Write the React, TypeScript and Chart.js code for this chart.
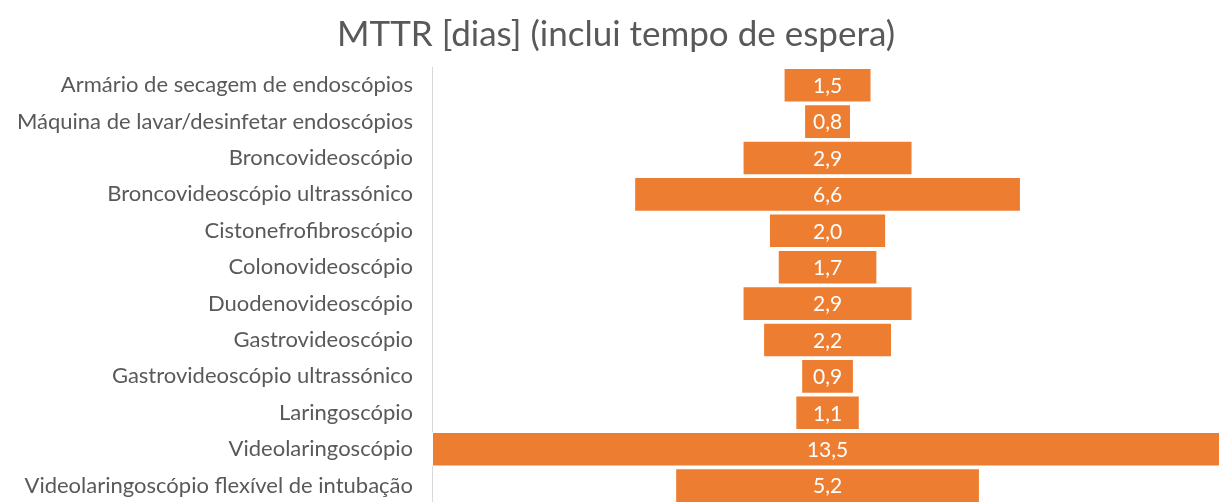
import React, { useEffect, useRef } from "react";
import { Chart, registerables } from "chart.js";

Chart.register(...registerables);

const categories: string[] = [
  "Armário de secagem de endoscópios",
  "Máquina de lavar/desinfetar endoscópios",
  "Broncovideoscópio",
  "Broncovideoscópio ultrassónico",
  "Cistonefrofibroscópio",
  "Colonovideoscópio",
  "Duodenovideoscópio",
  "Gastrovideoscópio",
  "Gastrovideoscópio ultrassónico",
  "Laringoscópio",
  "Videolaringoscópio",
  "Videolaringoscópio flexível de intubação",
];

const mttrValues: number[] = [1.5, 0.8, 2.9, 6.6, 2.0, 1.7, 2.9, 2.2, 0.9, 1.1, 13.5, 5.2];

const titleText = "MTTR [dias] (inclui tempo de espera)";

const FONT = "Lato, 'Open Sans', sans-serif";

const valueLabelPlugin = {
  id: "valueLabels",
  afterDatasetsDraw(chart: any) {
    const ctx = chart.ctx;
    const meta = chart.getDatasetMeta(0);
    ctx.save();
    ctx.fillStyle = "#ffffff";
    ctx.font = `21px ${FONT}`;
    ctx.textAlign = "center";
    ctx.textBaseline = "middle";
    meta.data.forEach((el: any, i: number) => {
      const cx = (el.x + el.base) / 2;
      ctx.fillText(mttrValues[i].toFixed(1).replace(".", ","), cx, el.y + 1);
    });
    ctx.restore();
  },
};

export default function App() {
  const ref = useRef<HTMLCanvasElement | null>(null);

  useEffect(() => {
    if (!ref.current) return;
    const chart = new Chart(ref.current, {
      type: "bar",
      data: {
        labels: categories,
        datasets: [
          {
            data: mttrValues.map((v) => [-v / 2, v / 2]) as any,
            backgroundColor: "#ED7D31",
            borderColor: "#ffffff",
            borderWidth: 1,
            borderSkipped: false,
            categoryPercentage: 1,
            barPercentage: 0.95,
          },
        ],
      },
      options: {
        indexAxis: "y",
        animation: false,
        responsive: false,
        layout: { padding: { left: 13, right: 0, top: 0, bottom: 0 } },
        plugins: {
          legend: { display: false },
          tooltip: { enabled: false },
          title: {
            display: true,
            text: titleText,
            color: "#595959",
            font: { family: FONT, size: 35, weight: "normal" as any, lineHeight: 1.2 },
            padding: { top: 14, bottom: 11 },
          },
        },
        scales: {
          x: {
            display: false,
            min: -6.75,
            max: 6.68,
          },
          y: {
            afterFit: (axis: any) => {
              axis.width = 419;
            },
            grid: { display: false, drawTicks: false },
            border: { display: true, color: "#D9D9D9", width: 1 },
            ticks: {
              color: "#595959",
              padding: 19,
              font: { family: FONT, size: 22 },
            },
          },
        },
      },
      plugins: [valueLabelPlugin],
    });
    return () => chart.destroy();
  }, []);

  return (
    <div
      style={{
        position: "fixed",
        left: 0,
        top: 0,
        width: 1219,
        height: 502,
        overflow: "hidden",
        background: "#ffffff",
      }}
    >
      <canvas ref={ref} width={1219} height={536} style={{ display: "block" }} />
    </div>
  );
}
